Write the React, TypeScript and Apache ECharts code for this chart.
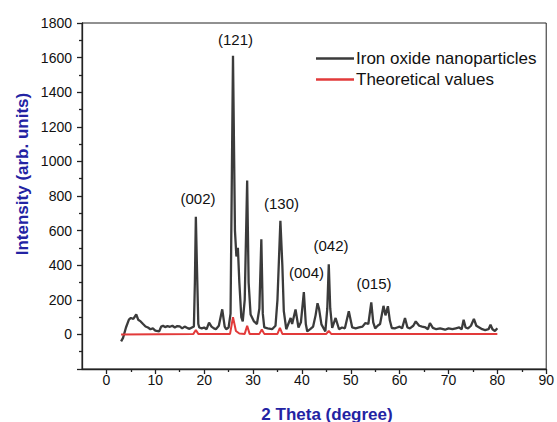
import React, { useEffect, useRef } from 'react';
import * as echarts from 'echarts';

// 2θ (degree) and intensity of the measured iron oxide pattern
const ironTheta = [
  3.0, 3.4, 4.0, 4.6, 5.0, 5.5, 6.1, 6.5, 7.0, 7.5, 8.0, 8.5, 9.0, 9.5, 10.0, 10.8, 11.2, 11.6, 12.0, 12.5,
  13.0, 13.5, 14.0, 14.5, 15.0, 15.5, 16.0, 16.5, 17.0, 17.5, 17.9, 18.1, 18.3, 18.5, 18.8, 19.0, 19.5, 20.0,
  20.5, 21.0, 21.5, 22.0, 22.4, 23.0, 23.7, 24.2, 24.5, 25.0, 25.4, 25.9, 26.3, 26.6, 26.9, 27.2, 27.6, 27.9,
  28.3, 28.8, 29.1, 29.5, 30.2, 30.8, 31.3, 31.7, 32.0, 32.3, 33.0, 33.9, 34.6, 35.0, 35.6, 36.0, 36.3, 36.8,
  37.3, 37.7, 38.0, 38.7, 39.3, 39.8, 40.4, 40.8, 41.1, 41.7, 42.3, 42.8, 43.2, 43.5, 44.0, 44.8, 45.2, 45.5,
  45.8, 46.2, 46.9, 47.6, 48.2, 48.8, 49.6, 50.3, 51.0, 51.7, 52.4, 53.0, 53.6, 54.2, 54.6, 55.0, 55.5, 56.0,
  56.7, 57.1, 57.6, 58.0, 58.4, 59.0, 59.5, 60.0, 60.5, 61.1, 61.6, 62.1, 62.8, 63.3, 64.0, 64.6, 65.3, 65.8,
  66.2, 66.8, 67.5, 68.3, 69.3, 70.0, 70.8, 71.5, 72.2, 72.7, 73.1, 73.5, 74.0, 74.6, 75.2, 75.7, 76.3, 76.9,
  77.5, 78.2, 78.6, 79.0, 79.5, 80.0,
];
const ironIntensity = [
  -40, -20, 40, 85, 95, 90, 115, 85, 75, 60, 46, 40, 30, 35, 22, 18, 45, 50, 42, 48,
  44, 50, 40, 48, 46, 35, 45, 38, 32, 40, 46, 300, 680, 420, 60, 40, 35, 40,
  30, 68, 45, 35, 30, 50, 145, 45, 30, 40, 120, 1610, 600, 450, 500, 300, 100, 75,
  200, 890, 300, 115, 75, 60, 150, 550, 120, 40, 35, 30, 50, 200, 657, 400, 134, 30,
  66, 95, 60, 144, 40, 70, 245, 60, 17, 30, 45, 110, 180, 150, 58, 17, 150, 405,
  150, 37, 95, 30, 40, 35, 134, 40, 35, 40, 45, 66, 60, 185, 70, 35, 50, 60,
  165, 110, 163, 80, 37, 35, 40, 45, 35, 95, 40, 35, 50, 75, 50, 45, 40, 30,
  66, 38, 30, 35, 27, 35, 30, 35, 40, 30, 85, 40, 35, 50, 90, 50, 40, 30,
  25, 30, 56, 30, 20, 36,
];

// theoretical reference pattern
const theoTheta = [3.0, 17.8, 18.3, 18.8, 25.3, 25.9, 26.5, 27.2, 28.3, 28.8, 29.3, 31.3, 31.8, 32.3, 35.0, 35.5, 36.0, 45.0, 45.5, 46.0, 80.0];
const theoIntensity = [0, 3, 25, 3, 3, 100, 20, 5, 3, 50, 3, 3, 28, 3, 3, 38, 3, 3, 20, 3, 3];

const xMajorTicks = [0, 10, 20, 30, 40, 50, 60, 70, 80, 90];
const xMinorTicks = [5, 15, 25, 35, 45, 55, 65, 75, 85];

const seriesNames = ['Iron oxide nanoparticles', 'Theoretical values'];
const peakLabels = ['(002)', '(121)', '(130)', '(004)', '(042)', '(015)'];

const FONT = "'Liberation Sans', Arial, sans-serif";

export default function App() {
  const ref = useRef<HTMLDivElement>(null);
  useEffect(() => {
    if (!ref.current) return;
    const chart = echarts.init(ref.current, undefined, { renderer: 'svg' });
    const zip = (a: number[], b: number[]) => a.map((v, i) => [v, b[i]]);
    const labelPos = [
      [198, 198], [235.5, 39], [281.5, 203], [306.5, 272], [331, 245], [374, 283],
    ];
    chart.setOption({
      animation: false,
      backgroundColor: '#fff',
      textStyle: { fontFamily: FONT },
      grid: {
        left: 82, right: 9, top: 23, bottom: 53,
        show: true, borderColor: '#222', borderWidth: 1, backgroundColor: 'transparent',
      },
      legend: {
        orient: 'vertical',
        left: 311,
        top: 45,
        itemWidth: 38,
        itemHeight: 2.5,
        itemGap: 4,
        icon: 'rect',
        data: seriesNames,
        textStyle: { fontSize: 17, color: '#111', fontFamily: FONT, lineHeight: 17, padding: [0, 0, 0, -3] },
      },
      xAxis: [
        {
          type: 'value', min: -5, max: 90, interval: 5,
          axisLine: { show: true, onZero: false, lineStyle: { color: '#222', width: 1.3 } },
          axisTick: { show: true, length: 5, customValues: xMajorTicks, lineStyle: { color: '#222', width: 1.3 } },
          axisLabel: { customValues: xMajorTicks, margin: 4, fontSize: 14, color: '#111', fontFamily: FONT },
          splitLine: { show: false },
        },
        {
          type: 'value', position: 'bottom', min: -5, max: 90, interval: 5,
          axisLine: { show: false, onZero: false },
          axisTick: { show: true, length: 3, customValues: xMinorTicks, lineStyle: { color: '#222', width: 1.3 } },
          axisLabel: { show: false },
          splitLine: { show: false },
        },
      ],
      yAxis: {
        type: 'value', min: -200, max: 1800, interval: 200,
        axisLine: { show: true, onZero: false, lineStyle: { color: '#222', width: 1.3 } },
        axisTick: { show: true, length: 5, lineStyle: { color: '#222', width: 1.3 } },
        minorTick: { show: true, splitNumber: 2, length: 3, lineStyle: { color: '#222', width: 1.3 } },
        axisLabel: {
          margin: 10, fontSize: 14, color: '#111', fontFamily: FONT,
          formatter: (v: number) => (v === -200 ? '' : String(v)),
        },
        splitLine: { show: false },
        minorSplitLine: { show: false },
      },
      series: [
        {
          name: seriesNames[0], type: 'line', xAxisIndex: 0, symbol: 'none',
          data: zip(ironTheta, ironIntensity),
          lineStyle: { color: '#3b3b3b', width: 2.3 }, itemStyle: { color: '#3b3b3b' },
        },
        {
          name: seriesNames[1], type: 'line', xAxisIndex: 0, symbol: 'none',
          data: zip(theoTheta, theoIntensity),
          lineStyle: { color: '#e23a3a', width: 2 }, itemStyle: { color: '#e23a3a' },
        },
      ],
      graphic: [
        ...peakLabels.map((t, i) => ({
          type: 'text', x: labelPos[i][0], y: labelPos[i][1],
          style: { text: t, fontSize: 15, fontFamily: FONT, fill: '#111', textAlign: 'center', textVerticalAlign: 'middle' },
        })),
        {
          type: 'text', x: 327, y: 414,
          style: { text: '2 Theta (degree)', fontSize: 17, fontWeight: 'bold', fontFamily: FONT, fill: '#2323a3', textAlign: 'center', textVerticalAlign: 'middle' },
        },
        {
          type: 'text', x: 22, y: 174, rotation: Math.PI / 2,
          style: { text: 'Intensity (arb. units)', fontSize: 17, fontWeight: 'bold', fontFamily: FONT, fill: '#2323a3', textAlign: 'center', textVerticalAlign: 'middle' },
        },
      ],
    });
    return () => chart.dispose();
  }, []);
  return <div ref={ref} style={{ position: 'fixed', left: 0, top: 0, width: 557, height: 422 }} />;
}
